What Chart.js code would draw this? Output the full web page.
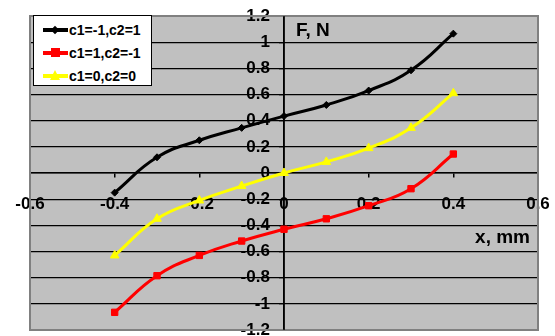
<!DOCTYPE html>
<html>
<head>
<meta charset="utf-8">
<script src="https://cdn.jsdelivr.net/npm/chart.js@4/dist/chart.umd.min.js"></script>
<style>
  body { margin: 0; background: #fff; }
  #wrap { position: relative; width: 555px; height: 336px; overflow: hidden; }
  #legend {
    position: absolute; left: 33px; top: 15px; width: 117px; height: 69px;
    background: #fff; border: 1px solid #000;
    font: bold 14px "Liberation Sans", Arial, sans-serif; color: #000;
  }
  .row { position: absolute; left: 9px; height: 16px; display: flex; align-items: center; }
  .sample { position: relative; width: 25px; height: 16px; margin-right: 1px; }
  .sample .ln { position: absolute; left: 0; top: 6px; width: 25px; height: 4px; }
  .sample .mk { position: absolute; }
</style>
</head>
<body>
<div id="wrap">
  <canvas id="chart" width="555" height="336"></canvas>
  <div id="legend"></div>
</div>
<script>
const xValues = [-0.4, -0.3, -0.2, -0.1, 0, 0.1, 0.2, 0.3, 0.4];
const seriesNames = ["c1=-1,c2=1", "c1=1,c2=-1", "c1=0,c2=0"];
const blackValues = [-0.15, 0.12, 0.25, 0.345, 0.435, 0.52, 0.63, 0.785, 1.065];
const redValues = [-1.065, -0.785, -0.63, -0.52, -0.43, -0.35, -0.25, -0.12, 0.145];
const yellowValues = [-0.63, -0.35, -0.21, -0.1, 0, 0.085, 0.19, 0.345, 0.61];
const xTickLabels = ["-0.6", "-0.4", "-0.2", "0", "0.2", "0.4", "0.6"];
const yTickLabels = ["-1.2", "-1", "-0.8", "-0.6", "-0.4", "-0.2", "0", "0.2", "0.4", "0.6", "0.8", "1", "1.2"];
const xTitle = "x, mm";
const yTitle = "F, N";

const FONT = '"Liberation Sans", Arial, sans-serif';

function toPoints(values) {
  return values.map((y, i) => ({ x: xValues[i], y }));
}

function makeSet(label, values, color, style, radius) {
  return {
    label,
    data: toPoints(values),
    borderColor: color,
    backgroundColor: color,
    borderWidth: 3,
    showLine: true,
    tension: 0.45,
    pointStyle: style,
    pointRadius: radius,
    pointBorderWidth: 1,
  };
}

const plotFrame = {
  id: "plotFrame",
  beforeDraw(chart) {
    const { ctx, chartArea: a } = chart;
    ctx.save();
    ctx.fillStyle = "#c0c0c0";
    ctx.fillRect(a.left, a.top, a.right - a.left, a.bottom - a.top);
    ctx.restore();
  },
  beforeDatasetsDraw(chart) {
    const { ctx, chartArea: a } = chart;
    ctx.save();
    ctx.strokeStyle = "#808080";
    ctx.lineWidth = 2;
    ctx.strokeRect(a.left, a.top, a.right - a.left, a.bottom - a.top);
    // the y axis line runs over the frame
    const x0 = chart.scales.x.getPixelForValue(0);
    ctx.strokeStyle = "#000";
    ctx.lineWidth = 1.5;
    ctx.beginPath();
    ctx.moveTo(x0, a.top);
    ctx.lineTo(x0, a.bottom);
    ctx.stroke();
    // axis titles
    ctx.fillStyle = "#000";
    ctx.font = "bold 19px " + FONT;
    ctx.textBaseline = "middle";
    ctx.textAlign = "left";
    ctx.fillText(yTitle, x0 + 12, 31);
    ctx.textAlign = "right";
    ctx.fillText(xTitle, a.right - 8, 238);
    ctx.restore();
  },
};

const tickFont = { family: FONT, size: 17, weight: "bold" };

const chart = new Chart(document.getElementById("chart"), {
  type: "scatter",
  data: {
    datasets: [
      makeSet(seriesNames[0], blackValues, "#000000", "rectRot", 3.5),
      makeSet(seriesNames[1], redValues, "#ff0000", "rect", 4.5),
      makeSet(seriesNames[2], yellowValues, "#ffff00", "triangle", 5),
    ],
  },
  options: {
    responsive: false,
    animation: false,
    layout: { padding: { left: 30, top: 16, right: 17, bottom: 5 } },
    plugins: { legend: { display: false }, tooltip: { enabled: false } },
    scales: {
      x: {
        type: "linear",
        min: -0.6,
        max: 0.6,
        position: { y: 0 },
        afterBuildTicks: (s) => { s.ticks = xTickLabels.map((t) => ({ value: Number(t) })); },
        afterFit: (s) => { s.paddingLeft = 0; s.paddingRight = 0; },
        ticks: {
          color: "#000",
          font: tickFont,
          padding: 17,
          maxRotation: 0,
          autoSkip: false,
          callback: (v, i) => xTickLabels[i],
        },
        grid: { drawOnChartArea: false, color: "#000", tickLength: 4, lineWidth: 1.5 },
        border: { color: "#000", width: 1.5 },
      },
      y: {
        type: "linear",
        min: -1.2,
        max: 1.2,
        position: { x: 0 },
        afterBuildTicks: (s) => { s.ticks = yTickLabels.map((t) => ({ value: Number(t) })); },
        afterFit: (s) => { s.paddingTop = 0; s.paddingBottom = 0; },
        ticks: {
          color: "#000",
          font: tickFont,
          autoSkip: false,
          // labels of a centred axis sit flush on it; trailing spaces give the gap
          callback: (v, i) => yTickLabels[i] + "   ",
        },
        grid: { color: "#000", tickLength: 4, lineWidth: 1.3 },
        border: { color: "#000", width: 1.5 },
      },
    },
  },
  plugins: [plotFrame],
});

// legend built from the same series
const legendColors = ["#000000", "#ff0000", "#ffff00"];
const legend = document.getElementById("legend");
seriesNames.forEach((name, i) => {
  const row = document.createElement("div");
  row.className = "row";
  row.style.top = 6 + i * 23 + "px";
  const sample = document.createElement("div");
  sample.className = "sample";
  const ln = document.createElement("div");
  ln.className = "ln";
  ln.style.background = legendColors[i];
  sample.appendChild(ln);
  const mk = document.createElement("div");
  mk.className = "mk";
  if (i === 0) {
    Object.assign(mk.style, { left: "9px", top: "5px", width: "6px", height: "6px", background: legendColors[i], transform: "rotate(45deg)" });
  } else if (i === 1) {
    Object.assign(mk.style, { left: "8px", top: "3px", width: "9px", height: "9px", background: legendColors[i] });
  } else {
    Object.assign(mk.style, { left: "7px", top: "2px", width: "0", height: "0", borderLeft: "5px solid transparent", borderRight: "5px solid transparent", borderBottom: "10px solid " + legendColors[i] });
  }
  sample.appendChild(mk);
  row.appendChild(sample);
  const txt = document.createElement("span");
  txt.textContent = name;
  row.appendChild(txt);
  legend.appendChild(row);
});
</script>
</body>
</html>
